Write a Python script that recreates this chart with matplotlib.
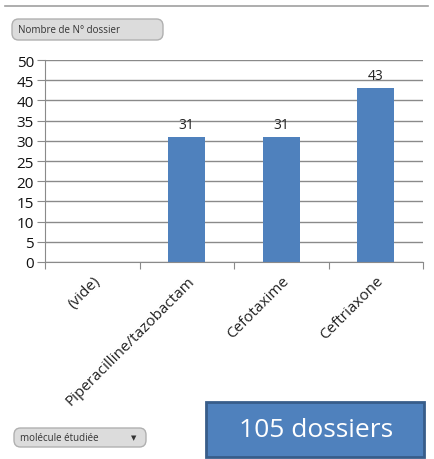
import matplotlib.pyplot as plt
from matplotlib.patches import FancyBboxPatch, Rectangle
from matplotlib.lines import Line2D

categories = ['(vide)', 'Piperacilline/tazobactam', 'Cefotaxime', 'Ceftriaxone']
counts = [0, 31, 31, 43]
yticks = [0, 5, 10, 15, 20, 25, 30, 35, 40, 45, 50]

plt.rcParams['font.family'] = ['Open Sans', 'DejaVu Sans']

W, H = 434, 460
fig = plt.figure(figsize=(W / 100, H / 100), dpi=100)

# plot area in pixels: left 45, right 423, top 61, bottom 263
ax = fig.add_axes([45 / W, 1 - 263 / H, (423 - 45) / W, (263 - 61) / H])

x = range(len(categories))
bars = ax.bar(x, counts, width=0.39, color='#4F81BD')
for xi, v in zip(x, counts):
    if v:
        ax.text(xi, v + 1.2, str(v), ha='center', va='bottom', fontsize=10, color='#222222')

ax.set_xlim(-0.5, len(categories) - 0.5)
ax.set_ylim(0, 50)
ax.set_yticks(yticks)
ax.set_yticklabels([str(t) for t in yticks], fontsize=11, color='#111111')
ax.yaxis.grid(True, color='#8a8a8a', linewidth=1)
ax.set_axisbelow(True)
ax.tick_params(axis='y', length=6, color='#8a8a8a', pad=2)

# category separators on the x axis
ax.set_xticks([i - 0.5 for i in range(len(categories) + 1)], minor=False)
ax.set_xticklabels([])
ax.tick_params(axis='x', which='major', length=5, color='#8a8a8a')
ax.set_xticks(list(x), minor=True)
ax.set_xticklabels(categories, minor=True, rotation=45, ha='right',
                   rotation_mode='anchor', fontsize=11, color='#222222')
ax.tick_params(axis='x', which='minor', length=0, pad=8)

for s in ['top', 'right']:
    ax.spines[s].set_visible(False)
for s in ['left', 'bottom']:
    ax.spines[s].set_color('#8a8a8a')

# top border line
fig.add_artist(Line2D([5 / W, 428 / W], [1 - 7 / H, 1 - 7 / H], color='#a0a0a0', linewidth=1.2))

# field buttons
def button(x0, y0, w, h, label):
    b = FancyBboxPatch((x0 / W, 1 - (y0 + h) / H), w / W, h / H,
                       boxstyle='round,pad=0,rounding_size=0.015',
                       transform=fig.transFigure, facecolor='#dcdcdc',
                       edgecolor='#b0b0b0', linewidth=1)
    fig.add_artist(b)
    fig.text((x0 + 6) / W, 1 - (y0 + h / 2) / H, label, fontsize=7,
             color='#333333', va='center', ha='left')

button(12, 20, 151, 21, 'Nombre de N° dossier')
button(14, 429, 132, 19, 'molécule étudiée')
fig.text(134 / W, 1 - 438 / H, '▼', fontsize=5, color='#333333', va='center', ha='center',
         family='DejaVu Sans')

# summary box
fig.add_artist(Rectangle((206 / W, 1 - 458 / H), 218 / W, 55 / H,
                         transform=fig.transFigure, facecolor='#4F81BD',
                         edgecolor='#385D8A', linewidth=2))
fig.text(316 / W, 1 - 431 / H, '105 dossiers', fontsize=19, color='white',
         ha='center', va='center')

fig.savefig('out.png', dpi=100)
